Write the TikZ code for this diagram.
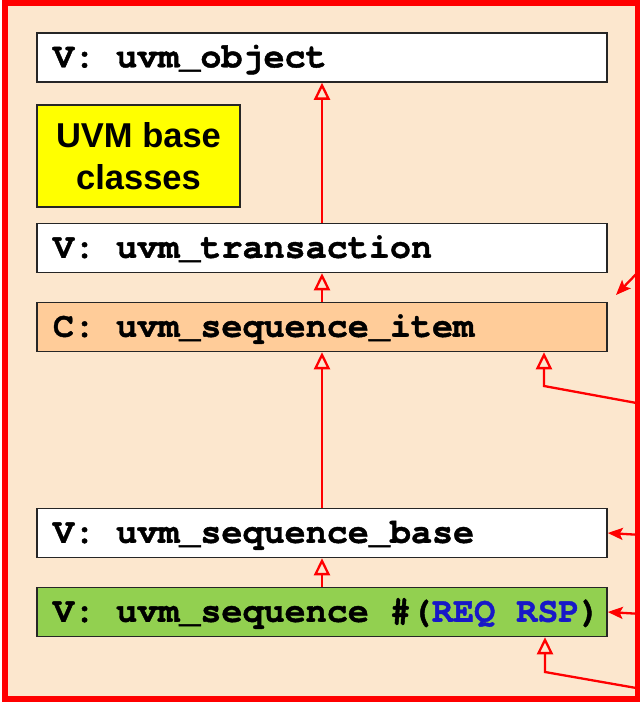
\documentclass[tikz,border=0pt]{standalone}
\usepackage{fontspec}
\usetikzlibrary{arrows.meta}
\newfontfamily\codefont{texgyrecursor}[Extension=.otf,
  UprightFont=*-regular, BoldFont=*-bold,
  BoldFeatures={FakeBold=1.2}]
\newfontfamily\labelfont{Liberation Sans}

\definecolor{panelbg}{RGB}{252,231,206}
\definecolor{itemfill}{RGB}{255,204,153}
\definecolor{seqfill}{RGB}{146,208,80}
\definecolor{notefill}{RGB}{255,255,0}
\definecolor{linkred}{RGB}{255,0,0}
\definecolor{codeblue}{RGB}{24,24,200}

% one full typewriter cell of blank space
\newcommand\wsp{\hspace*{0.6em}}

\tikzset{
  classbox/.style={draw=black!85, line width=1.5pt, rectangle,
    text width=538pt, align=left, inner xsep=16pt, inner ysep=0pt,
    minimum height=49pt, text height=19.5pt, text depth=0pt,
    font=\codefont\bfseries\fontsize{35.1}{40}\selectfont},
  notebox/.style={draw=black!85, line width=1.5pt, rectangle, fill=notefill,
    minimum width=203pt, minimum height=102pt, align=center, inner sep=0pt,
    font=\labelfont\bfseries\fontsize{34.5}{42}\selectfont},
  inherit/.style={draw=linkred, line width=2.3pt,
    -{Triangle[open, length=17pt, width=16pt]}},
  usage/.style={draw=linkred, line width=2.3pt,
    -{Stealth[length=15pt, width=12pt, inset=3pt]}},
}

\begin{document}
\begin{tikzpicture}[x=1pt, y=-1pt]
  \useasboundingbox (0,0) rectangle (640,702);

  % outer panel
  \draw[linkred, line width=6pt, fill=panelbg] (5,2.5) rectangle (638,698.5);

  % class boxes
  \node[classbox, fill=white]    (obj) at (322,57.5) {V:\wsp uvm\_object};
  \node[notebox]                 (note) at (138.5,156) {UVM base\\classes};
  \node[classbox, fill=white]    (tr)  at (322,248)  {V:\wsp uvm\_transaction};
  \node[classbox, fill=itemfill] (si)  at (322,327)  {C:\wsp uvm\_sequence\_item};
  \node[classbox, fill=white]    (sb)  at (322,533)  {V:\wsp uvm\_sequence\_base};
  \node[classbox, fill=seqfill]  (sq)  at (322,612)
    {V:\wsp uvm\_sequence\wsp\#(\textcolor{codeblue}{REQ\wsp RSP})};

  % inheritance
  \draw[inherit] (tr.north) -- (obj.south);
  \draw[inherit] (si.north) -- (tr.south);
  \draw[inherit] (sb.north) -- (si.south);
  \draw[inherit] (sq.north) -- (sb.south);

  % links entering from the right
  \coordinate (inA)  at (642,268);
  \coordinate (tipA) at (616,295);
  \coordinate (inB)  at (642,404);
  \coordinate (bendB) at (544,386);
  \coordinate (inC)  at (642,535);
  \coordinate (inD)  at (642,614);
  \coordinate (inE)  at (642,689);
  \coordinate (bendE) at (545,672);

  \draw[usage] (inA) -- (tipA);
  \draw[inherit] (inB) -- (bendB) -- (bendB |- si.south);
  \draw[usage] (inC) -- (sb.east);
  \draw[usage] (inD) -- (sq.east);
  \draw[inherit] (inE) -- (bendE) -- (bendE |- sq.south);
\end{tikzpicture}
\end{document}
